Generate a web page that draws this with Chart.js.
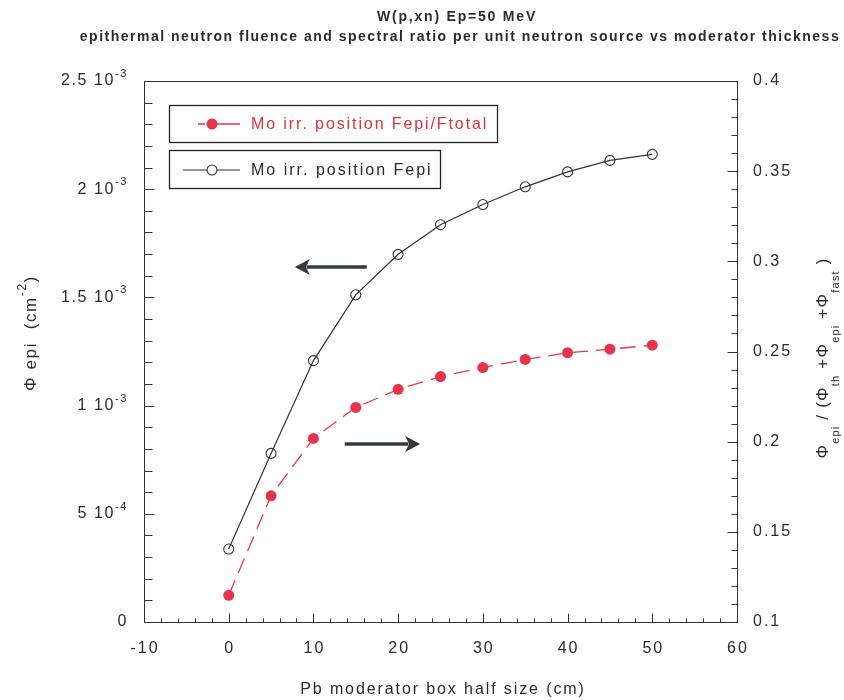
<!DOCTYPE html>
<html>
<head>
<meta charset="utf-8">
<script src="https://cdn.jsdelivr.net/npm/chart.js@4.4.0/dist/chart.umd.min.js"></script>
<style>
  html, body { margin: 0; padding: 0; background: #ffffff; }
  #wrap { width: 844px; height: 700px; }
</style>
</head>
<body>
<div id="wrap"><canvas id="c" width="844" height="700"></canvas></div>
<script>
// Pb moderator box half size (cm)
const thickness = [0, 5, 10, 15, 20, 25, 30, 35, 40, 45, 50];
// epithermal fluence per unit source neutron (cm^-2), left axis
const fluenceEpi = [0.337e-3, 0.779e-3, 1.208e-3, 1.512e-3, 1.699e-3, 1.836e-3, 1.929e-3, 2.011e-3, 2.080e-3, 2.133e-3, 2.161e-3];
// epithermal / total spectral ratio, right axis
const ratioEpi = [0.1148, 0.170, 0.2018, 0.2190, 0.2290, 0.2361, 0.2411, 0.2456, 0.2493, 0.2513, 0.2535];

const seriesLabels = ['Mo irr. position Fepi/Ftotal', 'Mo irr. position Fepi'];

const xTicks = [-10, 0, 10, 20, 30, 40, 50, 60];
const yLeftTicks = [0, 5e-4, 1e-3, 1.5e-3, 2e-3, 2.5e-3];
const yLeftTickLabels = [['0', ''], ['5 10', '-4'], ['1 10', '-3'], ['1.5 10', '-3'], ['2 10', '-3'], ['2.5 10', '-3']];
const yRightTicks = [0.1, 0.15, 0.2, 0.25, 0.3, 0.35, 0.4];
const yRightTickLabels = ['0.1', '0.15', '0.2', '0.25', '0.3', '0.35', '0.4'];

const titleLines = ['W(p,xn) Ep=50 MeV', 'epithermal neutron fluence and spectral ratio per unit neutron source vs moderator thickness'];
const xTitle = 'Pb moderator box half size (cm)';

const FONT = '"Liberation Sans", Arial, sans-serif';
const RED = '#e8344a';
const INK = '#2b2b2b';

// draws a sequence of text runs (normal / super / subscript) on one baseline
function drawRuns(ctx, runs, x, y, align, color, spacing) {
  ctx.save();
  ctx.fillStyle = color;
  ctx.textBaseline = 'middle';
  ctx.textAlign = 'left';
  ctx.letterSpacing = spacing + 'px';
  let total = 0;
  const widths = runs.map(r => {
    ctx.font = (r.bold ? 'bold ' : '') + r.size + 'px ' + FONT;
    const w = ctx.measureText(r.t).width;
    total += w;
    return w;
  });
  let cx = align === 'right' ? x - total : align === 'center' ? x - total / 2 : x;
  runs.forEach((r, i) => {
    ctx.font = (r.bold ? 'bold ' : '') + r.size + 'px ' + FONT;
    ctx.fillText(r.t, cx, y + (r.dy || 0));
    cx += widths[i];
  });
  ctx.restore();
}

function arrow(ctx, x0, y0, x1, y1) {
  const dir = Math.sign(x1 - x0);
  const head = 15, half = 8;
  ctx.save();
  ctx.strokeStyle = '#353a3f';
  ctx.fillStyle = '#353a3f';
  ctx.lineWidth = 3.5;
  ctx.beginPath();
  ctx.moveTo(x0, y0);
  ctx.lineTo(x1 - dir * head * 0.8, y1);
  ctx.stroke();
  ctx.beginPath();
  ctx.moveTo(x1, y1);
  ctx.lineTo(x1 - dir * head, y1 - half);
  ctx.lineTo(x1 - dir * head * 0.75, y1);
  ctx.lineTo(x1 - dir * head, y1 + half);
  ctx.closePath();
  ctx.fill();
  ctx.restore();
}

const decorations = {
  id: 'decorations',
  afterDraw(chart) {
    const { ctx, chartArea: a } = chart;
    const { x, yL, yR } = chart.scales;
    const L = Math.round(a.left) + 0.5, R = Math.round(a.right) + 0.5;
    const T = Math.round(a.top) + 0.5, B = Math.round(a.bottom) + 0.5;

    ctx.save();
    // frame
    ctx.strokeStyle = '#333';
    ctx.lineWidth = 1;
    ctx.strokeRect(L, T, R - L, B - T);

    // inward ticks
    ctx.beginPath();
    for (let v = -10; v <= 60.001; v += 2) {
      const px = Math.round(x.getPixelForValue(v)) + 0.5;
      const len = Math.abs(v % 10) < 1e-6 ? 9 : 4;
      ctx.moveTo(px, B); ctx.lineTo(px, B - len);
    }
    for (let k = 0; k <= 25; k++) {
      const py = Math.round(yL.getPixelForValue(k * 1e-4)) + 0.5;
      ctx.moveTo(L, py); ctx.lineTo(L + (k % 5 === 0 ? 10 : 8), py);
    }
    for (let k = 0; k <= 30; k++) {
      const py = Math.round(yR.getPixelForValue(0.1 + k * 0.01)) + 0.5;
      ctx.moveTo(R, py); ctx.lineTo(R - (k % 5 === 0 ? 10 : 6), py);
    }
    ctx.stroke();
    ctx.restore();

    // tick labels
    xTicks.forEach(v => {
      drawRuns(ctx, [{ t: String(v), size: 16 }], x.getPixelForValue(v) + 1, B + 26, 'center', INK, 2);
    });
    yLeftTicks.forEach((v, i) => {
      const [base, sup] = yLeftTickLabels[i];
      const runs = [{ t: base, size: 16 }];
      if (sup) runs.push({ t: sup, size: 11, dy: -7 });
      drawRuns(ctx, runs, a.left - 16, yL.getPixelForValue(v), 'right', INK, 1.6);
    });
    yRightTicks.forEach((v, i) => {
      drawRuns(ctx, [{ t: yRightTickLabels[i], size: 16 }], a.right + 16, yR.getPixelForValue(v), 'left', INK, 2);
    });

    // axis titles
    drawRuns(ctx, [{ t: xTitle, size: 16 }], 443, 690, 'center', INK, 1.9);

    ctx.save();
    ctx.translate(31, 333);
    ctx.rotate(-Math.PI / 2);
    drawRuns(ctx, [
      { t: '\u03A6 epi  (cm', size: 17 },
      { t: '-2', size: 12, dy: -8 },
      { t: ')', size: 17 }
    ], 0, 0, 'center', INK, 1.6);
    ctx.restore();

    ctx.save();
    ctx.translate(823, 358);
    ctx.rotate(-Math.PI / 2);
    drawRuns(ctx, [
      { t: '\u03A6', size: 17 }, { t: 'epi', size: 11, dy: 13 },
      { t: ' / (\u03A6', size: 17 }, { t: 'th', size: 11, dy: 13 },
      { t: ' +\u03A6', size: 17 }, { t: 'epi', size: 11, dy: 13 },
      { t: ' +\u03A6', size: 17 }, { t: 'fast', size: 11, dy: 13 },
      { t: ' )', size: 17 }
    ], 0, 0, 'center', INK, 1.2);
    ctx.restore();

    // title
    drawRuns(ctx, [{ t: titleLines[0], size: 14, bold: true }], 457, 17, 'center', INK, 1.8);
    drawRuns(ctx, [{ t: titleLines[1], size: 14, bold: true }], 460, 37, 'center', INK, 1.5);

    // direction arrows pointing at each series' axis
    arrow(ctx, x.getPixelForValue(16.3), yL.getPixelForValue(1.64e-3), x.getPixelForValue(7.8), yL.getPixelForValue(1.64e-3));
    arrow(ctx, x.getPixelForValue(13.7), yR.getPixelForValue(0.1987), x.getPixelForValue(22.6), yR.getPixelForValue(0.1987));

    // legend boxes
    const ds = chart.data.datasets;
    ctx.save();
    ctx.strokeStyle = '#222';
    ctx.lineWidth = 1.3;
    ctx.strokeRect(169.5, 105.5, 328, 37);
    ctx.strokeRect(169.5, 150.5, 271, 38);

    // red entry
    ctx.strokeStyle = ds[0].borderColor;
    ctx.lineWidth = 1.3;
    ctx.setLineDash([7, 5, 40]);
    ctx.beginPath(); ctx.moveTo(198, 124); ctx.lineTo(240, 124); ctx.stroke();
    ctx.setLineDash([]);
    ctx.fillStyle = ds[0].pointBackgroundColor;
    ctx.beginPath(); ctx.arc(212, 124, 5.5, 0, Math.PI * 2); ctx.fill();

    // black entry
    ctx.strokeStyle = ds[1].borderColor;
    ctx.lineWidth = 1.1;
    ctx.beginPath(); ctx.moveTo(183, 170); ctx.lineTo(240, 170); ctx.stroke();
    ctx.fillStyle = '#fff';
    ctx.beginPath(); ctx.arc(212, 170, 5, 0, Math.PI * 2); ctx.fill(); ctx.stroke();
    ctx.restore();

    drawRuns(ctx, [{ t: ds[0].label, size: 16 }], 251, 125, 'left', '#e3303c', 1.9);
    drawRuns(ctx, [{ t: ds[1].label, size: 16 }], 251, 171, 'left', INK, 2.0);
  }
};

new Chart(document.getElementById('c'), {
  type: 'scatter',
  data: {
    datasets: [
      {
        label: seriesLabels[0],
        yAxisID: 'yR',
        data: thickness.map((t, i) => ({ x: t, y: ratioEpi[i] })),
        showLine: true,
        borderColor: '#e23a48',
        borderWidth: 1.3,
        borderDash: [16, 8],
        pointRadius: 5.5,
        pointBackgroundColor: RED,
        pointBorderColor: RED,
        pointBorderWidth: 0,
        tension: 0
      },
      {
        label: seriesLabels[1],
        yAxisID: 'yL',
        data: thickness.map((t, i) => ({ x: t, y: fluenceEpi[i] })),
        showLine: true,
        borderColor: '#333333',
        borderWidth: 1.2,
        pointRadius: 5,
        pointBackgroundColor: 'rgba(255,255,255,0)',
        pointBorderColor: '#333333',
        pointBorderWidth: 1.1,
        tension: 0
      }
    ]
  },
  options: {
    responsive: false,
    animation: false,
    layout: { padding: { top: 81, left: 0, right: 0, bottom: 0 } },
    plugins: { legend: { display: false }, title: { display: false }, tooltip: { enabled: false } },
    scales: {
      x: {
        type: 'linear', min: -10, max: 60, position: 'bottom',
        grid: { display: false }, border: { display: false }, ticks: { display: false },
        afterFit(s) { s.height = 78; }
      },
      yL: {
        type: 'linear', min: 0, max: 2.5e-3, position: 'left',
        grid: { display: false }, border: { display: false }, ticks: { display: false },
        afterFit(s) { s.width = 144; }
      },
      yR: {
        type: 'linear', min: 0.1, max: 0.4, position: 'right',
        grid: { display: false }, border: { display: false }, ticks: { display: false },
        afterFit(s) { s.width = 107; }
      }
    }
  },
  plugins: [decorations]
});
</script>
</body>
</html>
